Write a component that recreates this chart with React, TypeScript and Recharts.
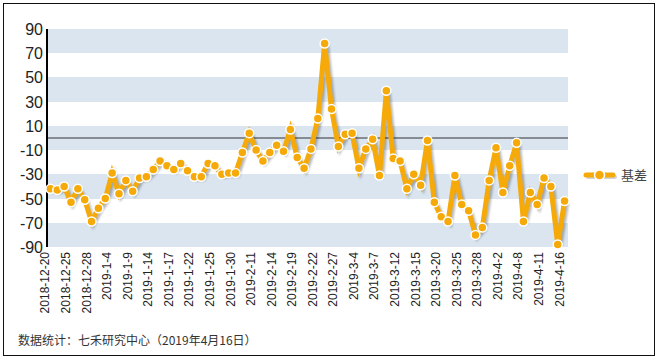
import React from "react";
import { LineChart, Line, XAxis, YAxis, CartesianGrid, ReferenceLine, Legend } from "recharts";

const dates = [
  "2018-12-20", "2018-12-21", "2018-12-24", "2018-12-25", "2018-12-26", "2018-12-27", "2018-12-28",
  "2019-1-2", "2019-1-3", "2019-1-4", "2019-1-7", "2019-1-8", "2019-1-9", "2019-1-10", "2019-1-11",
  "2019-1-14", "2019-1-15", "2019-1-16", "2019-1-17", "2019-1-18", "2019-1-21", "2019-1-22", "2019-1-23",
  "2019-1-24", "2019-1-25", "2019-1-28", "2019-1-29", "2019-1-30", "2019-1-31", "2019-2-1", "2019-2-11",
  "2019-2-12", "2019-2-13", "2019-2-14", "2019-2-15", "2019-2-18", "2019-2-19", "2019-2-20", "2019-2-21",
  "2019-2-22", "2019-2-25", "2019-2-26", "2019-2-27", "2019-2-28", "2019-3-1", "2019-3-4", "2019-3-5",
  "2019-3-6", "2019-3-7", "2019-3-8", "2019-3-11", "2019-3-12", "2019-3-13", "2019-3-14", "2019-3-15",
  "2019-3-18", "2019-3-19", "2019-3-20", "2019-3-21", "2019-3-22", "2019-3-25", "2019-3-26", "2019-3-27",
  "2019-3-28", "2019-3-29", "2019-4-1", "2019-4-2", "2019-4-3", "2019-4-4", "2019-4-8", "2019-4-9",
  "2019-4-10", "2019-4-11", "2019-4-12", "2019-4-15", "2019-4-16",
];

const basis = [
  -42, -43, -40, -53, -42, -51, -69, -58, -50, -29,
  -46, -35, -44, -33, -32, -26, -19, -23, -26, -21,
  -27, -32, -32, -21, -23, -30, -29, -29, -12, 4,
  -10, -19, -12, -6, -11, 7, -16, -25, -9, 16,
  78, 24, -7, 3, 4, -25, -9, -1, -31, 39,
  -17, -19, -42, -30, -39, -2, -53, -65, -69, -31,
  -55, -60, -80, -74, -35, -8, -45, -23, -4, -69,
  -45, -55, -33, -40, -88, -52,
];

const yTicks = [-90, -70, -50, -30, -10, 10, 30, 50, 70, 90];
const seriesName = "基差";
const footnote = "数据统计：七禾研究中心（2019年4月16日）";

const data = dates.map((d, i) => ({ date: d, value: basis[i] }));

const ORANGE = "#F5AA0A";

const XTick = (props: any) => {
  const { x, y, payload } = props;
  return (
    <text
      transform={`translate(${x - 1},${y + 5}) rotate(-90)`}
      textAnchor="end"
      fontSize={12}
      fill="#222"
      fontFamily="'Liberation Sans', Arial, sans-serif"
    >
      {payload.value}
    </text>
  );
};

const YTick = (props: any) => {
  const { x, y, payload } = props;
  return (
    <text
      x={x}
      y={y}
      dy={6}
      textAnchor="end"
      fontSize={16}
      fill="#222"
      fontFamily="'Liberation Sans', Arial, sans-serif"
    >
      {payload.value}
    </text>
  );
};

const LegendContent = (props: any) => {
  const items = props.payload || [];
  return (
    <div>
      {items.map((it: any) => (
        <div key={it.value} style={{ display: "flex", alignItems: "center" }}>
          <svg width={32} height={14} style={{ overflow: "visible" }}>
            <line x1={4} y1={9} x2={31} y2={9} stroke="#d0d4da" strokeWidth={4} strokeLinecap="round" />
            <line x1={2} y1={7} x2={29} y2={7} stroke={ORANGE} strokeWidth={5} strokeLinecap="round" />
            <circle cx={15.5} cy={7} r={5} fill={ORANGE} stroke="#fff" strokeWidth={1.5} />
          </svg>
          <span
            style={{
              marginLeft: 5,
              fontSize: 13,
              color: "#444",
              fontFamily: "'Noto Sans CJK SC', sans-serif",
            }}
          >
            {it.value}
          </span>
        </div>
      ))}
    </div>
  );
};

export default function App() {
  return (
    <div style={{ position: "absolute", left: 0, top: 0, width: 658, height: 362, background: "#fff" }}>
      <style>{`.basis-line .recharts-line-curve { filter: drop-shadow(2px 2px 1px rgba(0,0,0,0.28)); }`}</style>
      <div
        style={{
          position: "absolute",
          left: 3,
          top: 3,
          width: 652,
          height: 353,
          border: "1.5px solid #111",
          boxSizing: "border-box",
        }}
      />
      <div style={{ position: "absolute", left: 0, top: 0 }}>
        <LineChart width={658} height={362} data={data} margin={{ top: 29, right: 90, bottom: 45, left: 7 }}>
          <CartesianGrid
            vertical={false}
            stroke="transparent"
            horizontalFill={["#DAE5F0", "#ffffff"]}
            fillOpacity={1}
          />
          <XAxis
            dataKey="date"
            interval={2}
            axisLine={false}
            tickLine={false}
            tickSize={0}
            tickMargin={0}
            height={70}
            padding={{ left: 3.43, right: 3.43 }}
            tick={<XTick />}
          />
          <YAxis
            domain={[-90, 90]}
            ticks={yTicks}
            interval={0}
            width={40}
            axisLine={{ stroke: "#000", strokeWidth: 2 }}
            tickLine={false}
            tickSize={0}
            tickMargin={4}
            tick={<YTick />}
          />
          <ReferenceLine y={0} stroke="#333" strokeWidth={1} />
          <Legend
            layout="vertical"
            align="center"
            verticalAlign="middle"
            content={<LegendContent />}
            wrapperStyle={{ position: "absolute", top: 165, left: 584, width: 70 }}
          />
          <Line
            className="basis-line"
            type="linear"
            dataKey="value"
            name={seriesName}
            stroke={ORANGE}
            strokeWidth={5}
            dot={{ r: 4.5, fill: ORANGE, stroke: "#fff", strokeWidth: 1.5 }}
            activeDot={false}
            isAnimationActive={false}
          />
        </LineChart>
      </div>
      <div
        style={{
          position: "absolute",
          left: 18,
          top: 332,
          fontSize: 12,
          color: "#333",
          fontFamily: "'Noto Sans CJK SC', sans-serif",
          whiteSpace: "nowrap",
          lineHeight: "16px",
        }}
      >
        {footnote}
      </div>
    </div>
  );
}
